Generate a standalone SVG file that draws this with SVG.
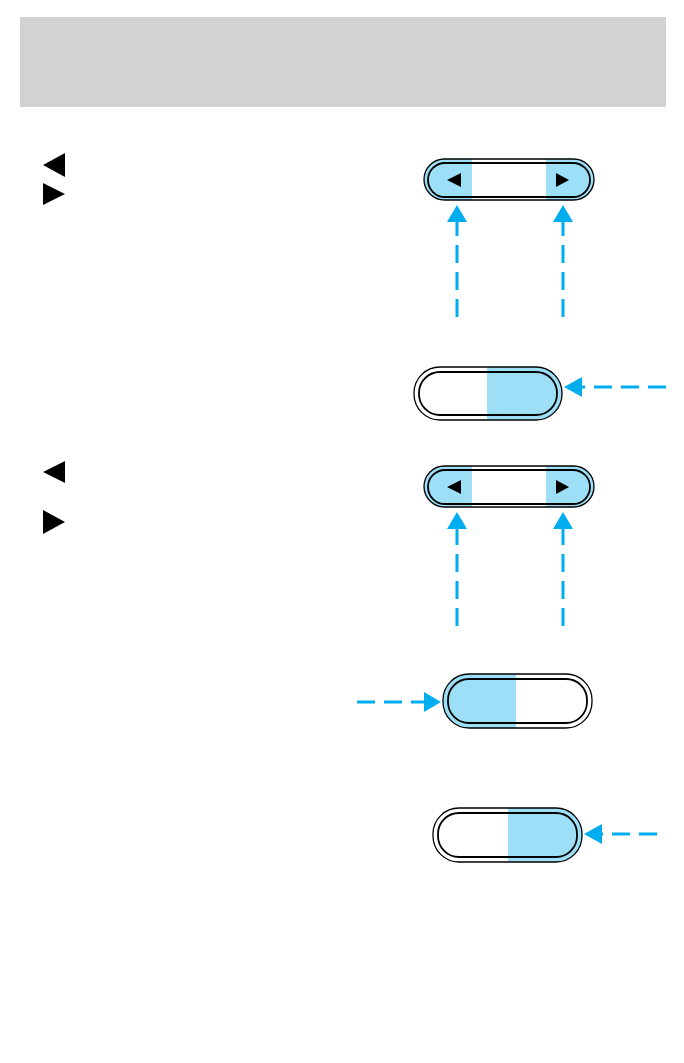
<svg xmlns="http://www.w3.org/2000/svg" width="684" height="1063" viewBox="0 0 684 1063">
<style>
.blue{fill:#9ddff7}
.outer{fill:none;stroke:#000;stroke-width:1.3}
.inner{fill:none;stroke:#000;stroke-width:1.8}
.dash{stroke:#00aeef;stroke-width:3;stroke-dasharray:18 9;fill:none}
.head{fill:#00aeef}
.tri{fill:#000}
</style>
<defs>
<clipPath id="cA"><rect x="424" y="159" width="170" height="41" rx="20.5"/></clipPath>
<clipPath id="cC"><rect x="424" y="466" width="170" height="41" rx="20.5"/></clipPath>
<clipPath id="cB"><rect x="414" y="367" width="148" height="53" rx="26"/></clipPath>
<clipPath id="cD"><rect x="443" y="674" width="149" height="54" rx="26"/></clipPath>
<clipPath id="cE"><rect x="433" y="808" width="149" height="54" rx="26"/></clipPath>
</defs>
<rect x="20" y="17" width="646" height="90" fill="#d2d2d2"/>
<g id="legend">
<polygon class="tri" points="43,165 65,153 65,177"/>
<polygon class="tri" points="43,183 65,194 43,205"/>
<polygon class="tri" points="43,472 65,461 65,483"/>
<polygon class="tri" points="43,510 65,522 43,534"/>
</g>
<g id="button1">
<g clip-path="url(#cA)"><rect class="blue" x="424" y="159" width="48" height="41"/><rect class="blue" x="546" y="159" width="48" height="41"/></g>
<rect class="outer" x="424" y="159" width="170" height="41" rx="20.5"/>
<rect class="inner" x="428" y="163" width="162" height="34" rx="17"/>
<polygon class="tri" points="447,180 461,173 461,187"/>
<polygon class="tri" points="569,180 556,173 556,187"/>
</g>
<g id="button2">
<g clip-path="url(#cB)"><rect class="blue" x="487" y="367" width="75" height="53"/></g>
<rect class="outer" x="414" y="367" width="148" height="53" rx="26"/>
<rect class="inner" x="419" y="372" width="138" height="43" rx="21"/>
</g>
<g id="button3">
<g clip-path="url(#cC)"><rect class="blue" x="424" y="466" width="48" height="41"/><rect class="blue" x="546" y="466" width="48" height="41"/></g>
<rect class="outer" x="424" y="466" width="170" height="41" rx="20.5"/>
<rect class="inner" x="428" y="470" width="162" height="34" rx="17"/>
<polygon class="tri" points="447,487 461,480 461,494"/>
<polygon class="tri" points="569,487 556,480 556,494"/>
</g>
<g id="button4">
<g clip-path="url(#cD)"><rect class="blue" x="443" y="674" width="73" height="54"/></g>
<rect class="outer" x="443" y="674" width="149" height="54" rx="26"/>
<rect class="inner" x="448" y="679" width="139" height="44" rx="21"/>
</g>
<g id="button5">
<g clip-path="url(#cE)"><rect class="blue" x="508" y="808" width="74" height="54"/></g>
<rect class="outer" x="433" y="808" width="149" height="54" rx="26"/>
<rect class="inner" x="438" y="813" width="139" height="44" rx="21"/>
</g>
<g id="connectors">
<line class="dash" x1="457" y1="317" x2="457" y2="222"/>
<polygon class="head" points="457,205 447,222 467,222"/>
<line class="dash" x1="563" y1="317" x2="563" y2="222"/>
<polygon class="head" points="563,205 553,222 573,222"/>
<line class="dash" x1="666" y1="387" x2="582" y2="387"/>
<polygon class="head" points="564,387 582,377 582,397"/>
<line class="dash" x1="457" y1="626" x2="457" y2="529"/>
<polygon class="head" points="457,512 447,529 467,529"/>
<line class="dash" x1="563" y1="626" x2="563" y2="529"/>
<polygon class="head" points="563,512 553,529 573,529"/>
<line class="dash" x1="357" y1="702" x2="424" y2="702"/>
<polygon class="head" points="441,702 424,692 424,712"/>
<line class="dash" x1="657" y1="834" x2="602" y2="834"/>
<polygon class="head" points="584,834 602,824 602,844"/>
</g>
</svg>
